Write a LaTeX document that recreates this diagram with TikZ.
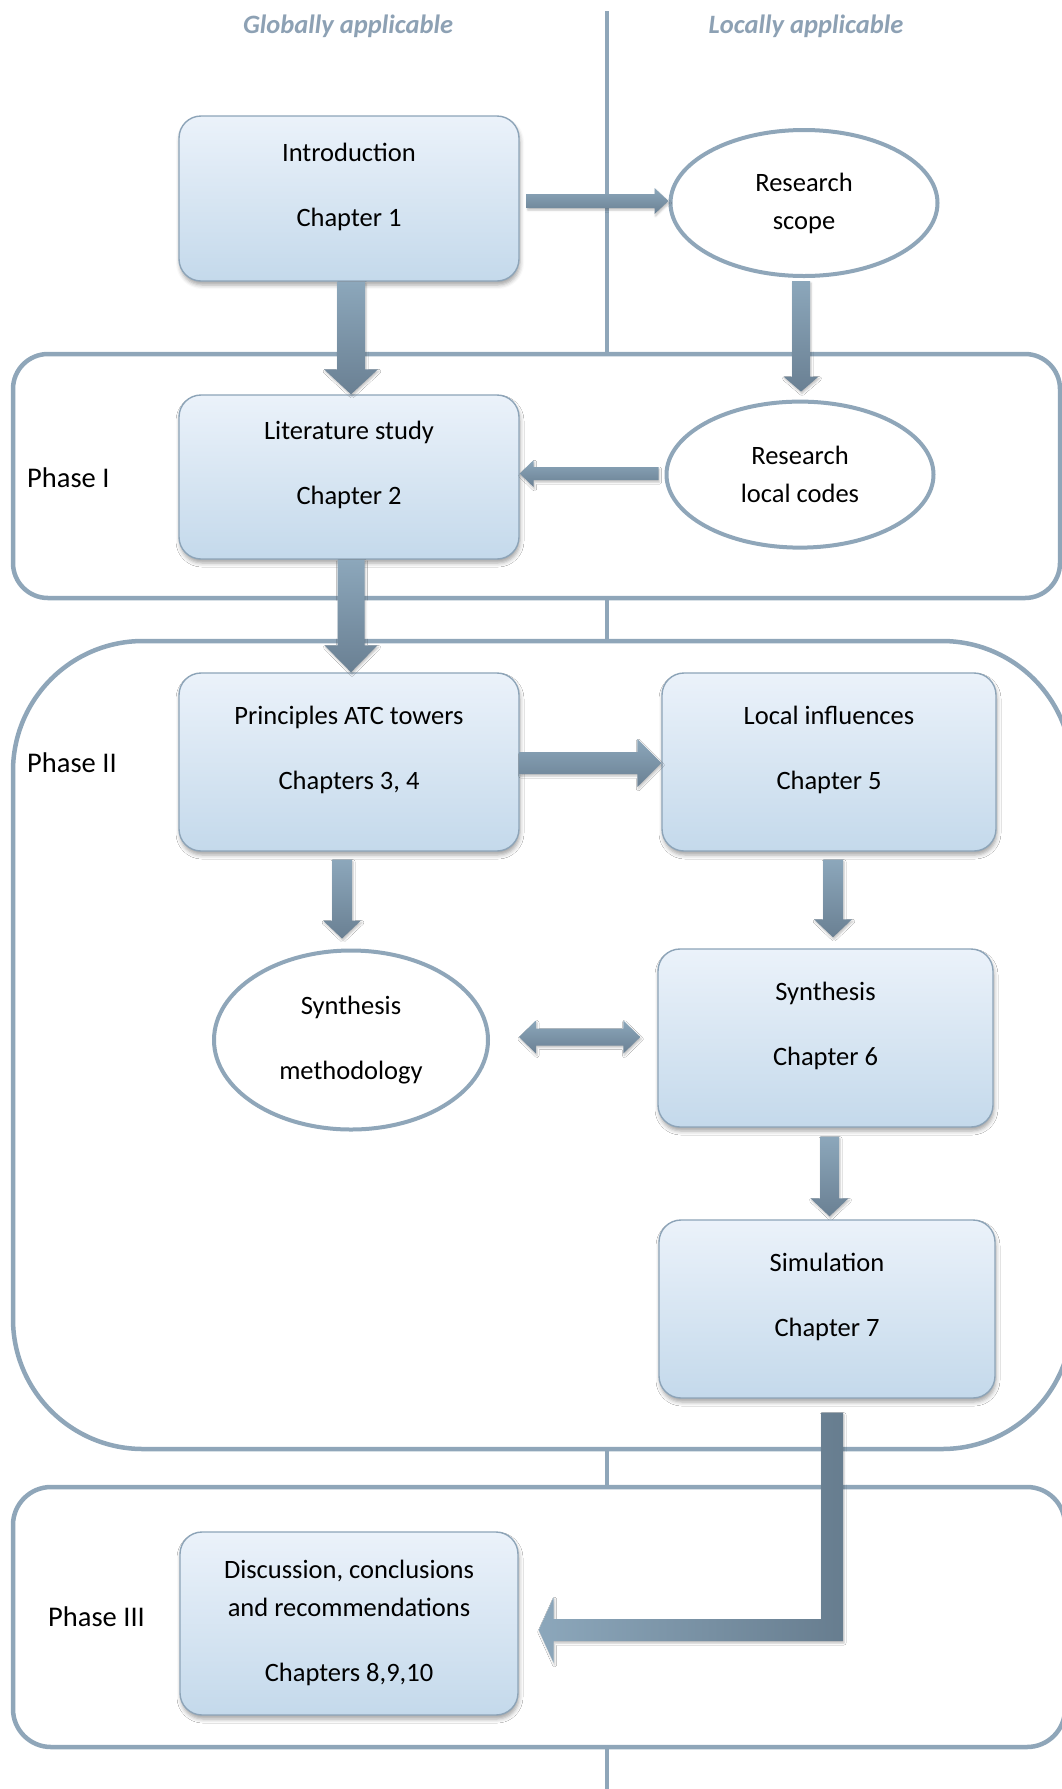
\documentclass[tikz,border=0pt]{standalone}
\usepackage{fontspec}
\setmainfont{Carlito}
\usetikzlibrary{shapes.geometric,calc,shadows.blur}

\definecolor{frameline}{RGB}{143,166,185}
\definecolor{boxline}{RGB}{141,164,184}
\definecolor{boxtop}{RGB}{235,242,250}
\definecolor{boxbot}{RGB}{196,217,235}
\definecolor{arrowlight}{RGB}{140,167,187}
\definecolor{arrowdark}{RGB}{106,128,147}
\definecolor{arrowdeep}{RGB}{103,125,143}
\definecolor{headtext}{RGB}{141,161,180}

\newcommand\boxfont{\fontsize{26.5pt}{38pt}\selectfont}
\newcommand\phasefont{\fontsize{28.5pt}{34pt}\selectfont}
\newcommand\headfont{\fontsize{26.5pt}{32pt}\selectfont\bfseries\itshape}

% block arrow pointing down: top point, tip point (its x is ignored), shaft, head, head length
\newcommand\downblock[5]{%
  \shade[blockarrow] let \p1=#1, \p2=#2 in
    ({\x1-#3/2},\y1) -- ({\x1+#3/2},\y1) -- ({\x1+#3/2},{\y2+#5}) --
    ({\x1+#4/2},{\y2+#5}) -- (\x1,\y2) -- ({\x1-#4/2},{\y2+#5}) --
    ({\x1-#3/2},{\y2+#5}) -- cycle;}
% horizontal block arrow: start, tip (its y is ignored), shaft, head, signed head length
\newcommand\sideblock[5]{%
  \shade[blockarrow] let \p1=#1, \p2=#2 in
    (\x1,{\y1+#3/2}) -- ({\x2-(#5)},{\y1+#3/2}) -- ({\x2-(#5)},{\y1+#4/2}) --
    (\x2,\y1) -- ({\x2-(#5)},{\y1-#4/2}) -- ({\x2-(#5)},{\y1-#3/2}) --
    (\x1,{\y1-#3/2}) -- cycle;}
% horizontal block arrow with two heads: left tip, right tip, shaft, head, head length
\newcommand\doubleblock[5]{%
  \shade[blockarrow] let \p1=#1, \p2=#2 in
    (\x1,\y1) -- ({\x1+#5},{\y1+#4/2}) -- ({\x1+#5},{\y1+#3/2}) --
    ({\x2-#5},{\y1+#3/2}) -- ({\x2-#5},{\y1+#4/2}) -- (\x2,\y1) --
    ({\x2-#5},{\y1-#4/2}) -- ({\x2-#5},{\y1-#3/2}) -- ({\x1+#5},{\y1-#3/2}) --
    ({\x1+#5},{\y1-#4/2}) -- cycle;}
% bent block arrow: down from the first point, then left to the tip
\newcommand\bentblock[5]{%
  \shade[bentarrow] let \p1=#1, \p2=#2 in
    ({\x1+#3/2},\y1) -- ({\x1+#3/2},{\y2-#3/2}) -- ({\x2+#5},{\y2-#3/2}) --
    ({\x2+#5},{\y2-#4/2}) -- (\x2,\y2) -- ({\x2+#5},{\y2+#4/2}) --
    ({\x2+#5},{\y2+#3/2}) -- ({\x1-#3/2},{\y2+#3/2}) -- ({\x1-#3/2},\y1) -- cycle;}

\tikzset{
  chapbox/.style={draw=boxline, line width=1.4pt, rounded corners=22pt,
    top color=boxtop, bottom color=boxbot, inner sep=0pt,
    blur shadow={shadow xshift=1pt, shadow yshift=-4pt, shadow blur radius=4pt, shadow opacity=35}},
  boxtext/.style={align=center, font=\boxfont, inner sep=0pt},
  topic/.style={ellipse, draw=frameline, line width=4pt, fill=white,
    align=center, font=\boxfont, inner sep=0pt},
  phase/.style={draw=frameline, line width=4.5pt, fill=white, inner sep=0pt},
  phaselabel/.style={font=\phasefont, anchor=west, inner sep=0pt},
  header/.style={font=\headfont, text=headtext, inner sep=0pt},
  divider/.style={draw=frameline, line width=4.5pt},
  blockarrow/.style={top color=arrowlight, bottom color=arrowdark,
    blur shadow={shadow xshift=1pt, shadow yshift=-2pt, shadow blur radius=2pt, shadow opacity=25}},
  bentarrow/.style={left color=arrowlight, right color=arrowdeep,
    blur shadow={shadow xshift=1pt, shadow yshift=-2pt, shadow blur radius=2pt, shadow opacity=25}},
}

\begin{document}
\begin{tikzpicture}[x=1pt, y=-1pt]
\useasboundingbox (0,0) rectangle (1061,1789);

% column headings and the divider between them
\node[header] (global) at (348,26) {Globally applicable};
\node[header] (local) at (806,26) {Locally applicable};
\coordinate (divtop) at (607,11);
\coordinate (divbot) at (607,1789);
\draw[divider] (divtop) -- (divbot);

% phase frames
\node[phase, rounded corners=35pt, minimum width=1047pt, minimum height=244pt] (phaseI) at (536.5,476) {};
\node[phase, rounded corners=130pt, minimum width=1059pt, minimum height=808pt] (phaseII) at (542.5,1045) {};
\node[phase, rounded corners=38pt, minimum width=1052pt, minimum height=260pt] (phaseIII) at (539,1617) {};
\node[phaselabel] (labelI) at (27,478) {Phase I};
\node[phaselabel] (labelII) at (27,763) {Phase II};
\node[phaselabel] (labelIII) at (48,1617) {Phase III};

% chapters
\node[chapbox, minimum width=340pt, minimum height=165pt] (intro) at (349,198.5) {};
\node[boxtext] (intro-text) at ([yshift=12pt]intro.center) {Introduction\\[27pt]Chapter 1};
\node[chapbox, minimum width=340pt, minimum height=164pt] (lit) at (349,477) {};
\node[boxtext] (lit-text) at ([yshift=12pt]lit.center) {Literature study\\[27pt]Chapter 2};
\node[chapbox, minimum width=340pt, minimum height=178pt] (prin) at (349,762) {};
\node[boxtext] (prin-text) at ([yshift=12pt]prin.center) {Principles ATC towers\\[27pt]Chapters 3, 4};
\node[chapbox, minimum width=334pt, minimum height=178pt] (local) at (829,762) {};
\node[boxtext] (local-text) at ([yshift=12pt]local.center) {Local influences\\[27pt]Chapter 5};
\node[chapbox, minimum width=335pt, minimum height=178pt] (syn6) at (825.5,1038) {};
\node[boxtext] (syn6-text) at ([yshift=12pt]syn6.center) {Synthesis\\[27pt]Chapter 6};
\node[chapbox, minimum width=336pt, minimum height=178pt] (sim) at (827,1309) {};
\node[boxtext] (sim-text) at ([yshift=12pt]sim.center) {Simulation\\[27pt]Chapter 7};
\node[chapbox, minimum width=338pt, minimum height=183pt] (disc) at (349,1623.5) {};
\node[boxtext] (disc-text) at ([yshift=1pt]disc.center) {Discussion, conclusions\\and recommendations\\[27pt]Chapters 8,9,10};

% local topics
\node[topic, minimum width=267pt, minimum height=146pt] (scope) at (804,203) {Research\\scope};
\node[topic, minimum width=267pt, minimum height=146pt] (codes) at (800,474.6) {Research\\local codes};
\node[topic, minimum width=274pt, minimum height=179pt] (synm) at (351,1040) {Synthesis\\[27pt]methodology};

% flow
\sideblock{($(intro.east)+(7,2.5)$)}{(scope.west)}{14pt}{26pt}{14pt}
\downblock{($(intro.south)+(2,0)$)}{(lit.north)}{28pt}{54pt}{25pt}
\downblock{($(scope.south)+(-3,3)$)}{($(codes.north)+(0,-8)$)}{18pt}{35pt}{15pt}
\sideblock{($(codes.west)+(-6,-1)$)}{(lit.east)}{13pt}{27pt}{-14pt}
\downblock{($(lit.south)+(2,0)$)}{(prin.north)}{27pt}{53pt}{27pt}
\sideblock{($(prin.east)+(0,1)$)}{(local.west)}{22pt}{48pt}{24pt}
\downblock{($(prin.south)+(-7,8)$)}{($(synm.north)+(0,-10)$)}{20pt}{38pt}{18pt}
\downblock{($(local.south)+(4,8)$)}{($(syn6.north)+(0,-11)$)}{20pt}{38pt}{18pt}
\doubleblock{($(synm.east)+(29,-3)$)}{($(syn6.west)+(-17,0)$)}{17pt}{33pt}{17pt}
\downblock{($(syn6.south)+(4,9)$)}{($(sim.north)+(0,-3)$)}{19pt}{38pt}{18pt}
\bentblock{($(sim.south)+(5,14)$)}{($(disc.east)+(20,6.5)$)}{22pt}{66pt}{15pt}
\end{tikzpicture}
\end{document}
